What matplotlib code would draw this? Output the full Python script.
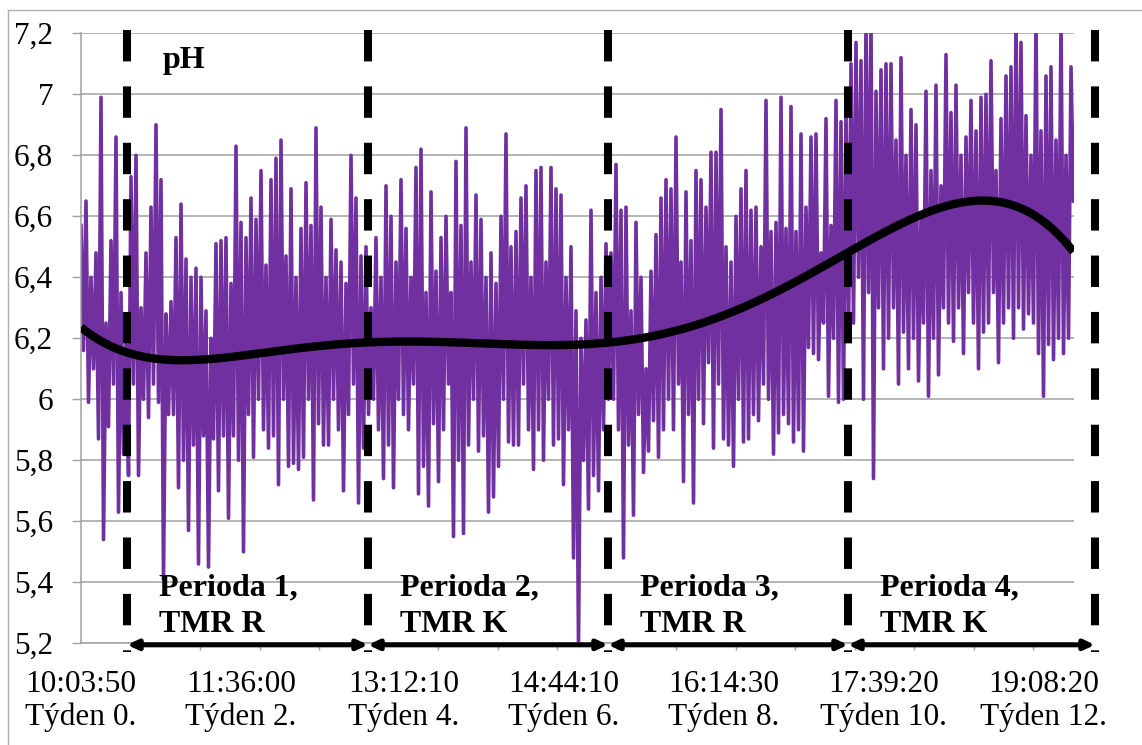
import numpy as np
import matplotlib
matplotlib.use("Agg")
import matplotlib.pyplot as plt
from matplotlib.lines import Line2D

plt.rcParams['font.family'] = ['Liberation Serif', 'DejaVu Serif']

# ---------------- data ----------------
ph_p0 = [6.57, 6.16, 6.65, 5.99, 6.40, 6.10, 6.48, 5.87, 6.99, 5.54, 6.25, 5.91,
         6.52, 6.05, 6.86, 5.63, 6.35, 5.82, 6.18]
ph_p1 = [5.75, 6.73, 6.05, 6.80, 5.75, 6.30, 6.00, 6.48, 5.94, 6.63,
         6.05, 6.90, 5.99, 6.72, 5.41, 6.28, 5.95, 6.32, 5.95, 6.53,
         5.71, 6.64, 5.80, 6.46, 5.57, 6.40, 5.85, 6.43, 5.46, 6.40,
         5.88, 6.29, 5.45, 6.20, 5.87, 6.51, 5.70, 6.52, 5.88, 6.53,
         5.61, 6.38, 5.88, 6.83, 5.80, 6.58, 5.50, 6.53, 5.95, 6.66,
         5.81, 6.59, 6.00, 6.75, 5.90, 6.44, 5.84, 6.72, 5.88, 6.79,
         5.72, 6.85, 6.00, 6.47, 5.78, 6.69, 5.79, 6.40, 5.77, 6.56,
         5.81, 6.71, 6.00, 6.57, 5.67, 6.89, 5.92, 6.63, 5.85, 6.40,
         5.85, 6.59, 6.00, 6.49, 5.90, 6.45, 5.70, 6.38, 5.95, 6.80,
         6.05, 6.66, 5.66, 6.47, 5.84, 6.50]
ph_p2 = [5.95, 6.30, 6.00, 6.53, 5.90, 6.40, 5.74, 6.70, 5.85, 6.60,
         5.71, 6.45, 6.00, 6.72, 5.95, 6.56, 5.90, 6.40, 6.05, 6.76,
         5.69, 6.82, 5.78, 6.35, 5.65, 6.68, 5.92, 6.42, 5.73, 6.53,
         5.90, 6.60, 6.05, 6.35, 5.55, 6.78, 5.80, 6.57, 5.56, 6.89,
         5.85, 6.45, 6.00, 6.67, 5.83, 6.59, 5.88, 6.40, 5.63, 6.48,
         5.68, 6.38, 5.78, 6.60, 6.00, 6.87, 5.86, 6.50, 5.85, 6.55,
         5.85, 6.66, 6.05, 6.70, 5.90, 6.40, 5.77, 6.75, 5.90, 6.76,
         5.80, 6.45, 6.00, 6.76, 5.85, 6.69, 5.87, 6.67, 5.72, 6.40,
         5.90, 6.50, 5.48, 6.29, 5.19, 6.20, 5.80, 6.26, 5.64, 6.62,
         5.75, 6.35, 5.70, 6.40, 5.90, 6.51]
ph_p3 = [6.00, 6.48, 6.00, 6.77, 5.90, 6.62, 5.48, 6.63, 5.85, 6.29,
         5.62, 6.58, 5.95, 6.40, 5.76, 6.10, 5.83, 6.42, 5.93, 6.54,
         5.81, 6.66, 5.90, 6.72, 6.00, 6.69, 5.90, 6.86, 6.05, 6.45,
         5.73, 6.68, 5.95, 6.52, 5.66, 6.75, 6.00, 6.72, 5.92, 6.63,
         6.12, 6.81, 5.84, 6.81, 6.05, 6.95, 5.87, 6.50, 5.85, 6.45,
         5.78, 6.60, 6.00, 6.69, 5.86, 6.75, 5.87, 6.62, 5.95, 6.63,
         5.93, 6.50, 6.05, 6.98, 6.00, 6.55, 5.82, 6.58, 5.89, 6.99,
         5.95, 6.56, 5.92, 6.96, 5.86, 6.55, 5.90, 6.87, 5.83, 6.63,
         6.17, 6.86, 6.15, 6.87, 6.13, 6.48, 6.25, 6.92, 6.01, 6.57,
         6.20, 6.98, 5.99, 6.91, 6.00, 6.95]
ph_p4 = [6.20, 7.10, 6.25, 7.17, 6.40, 7.11, 6.00, 7.25, 6.35, 7.25,
         5.74, 7.01, 6.30, 7.08, 6.10, 7.10, 6.20, 7.10, 6.30, 6.85,
         6.05, 7.12, 6.22, 6.80, 6.10, 6.95, 6.20, 6.90, 6.06, 6.60,
         6.25, 7.01, 6.01, 6.75, 6.20, 7.03, 6.08, 6.70, 6.30, 7.13,
         6.25, 6.94, 6.19, 7.03, 6.30, 6.80, 6.15, 6.86, 6.35, 6.98,
         6.25, 6.88, 6.10, 6.99, 6.22, 7.00, 6.25, 7.11, 6.35, 6.75,
         6.12, 6.92, 6.25, 7.06, 6.30, 7.09, 6.20, 7.25, 6.30, 7.17,
         6.23, 6.93, 6.28, 6.80, 6.25, 7.25, 6.15, 6.88, 6.01, 7.06,
         6.18, 7.09, 6.13, 6.85, 6.20, 7.25, 6.15, 6.80, 6.20, 7.09,
         6.65]

# trendline values (Excel polynomial trendline)
trend_idx = [0, 8, 18, 28, 40, 53, 69, 88, 101, 120,
             138, 165, 192, 208, 221, 234, 248, 261, 274, 288,
             301, 307, 317, 330, 344, 357, 362, 370, 384, 397]
trend_val = [6.233, 6.195, 6.156, 6.134, 6.126, 6.131, 6.151, 6.167, 6.178, 6.189,
             6.191, 6.185, 6.177, 6.176, 6.195, 6.215, 6.250, 6.290, 6.345, 6.400,
             6.455, 6.480, 6.520, 6.577, 6.626, 6.654, 6.657, 6.648, 6.583, 6.484]
trend_order = 6

time_labels = ["10:03:50", "11:36:00", "13:12:10", "14:44:10",
               "16:14:30", "17:39:20", "19:08:20"]
week_labels = ["Týden 0.", "Týden 2.", "Týden 4.", "Týden 6.",
               "Týden 8.", "Týden 10.", "Týden 12."]
label_idx = [0, 64, 129, 193, 257, 321, 385]

period_bounds = [18.4, 114.8, 210.8, 306.8, 405.6]
period_names = ["Perioda 1,", "Perioda 2,", "Perioda 3,", "Perioda 4,"]
diet_names = ["TMR R", "TMR K", "TMR R", "TMR K"]

# ---------------- figure ----------------
W, H = 1142, 745
fig = plt.figure(figsize=(W / 100, H / 100), dpi=100)
ax = fig.add_axes([81 / W, (H - 643.3) / H, (1074 - 81) / W, (643.3 - 33.3) / H])

ph = ph_p0 + ph_p1 + ph_p2 + ph_p3 + ph_p4
x = np.arange(len(ph))

purple = '#7030A0'
grey = '#a0a0a0'
ax.plot(x, ph, color=purple, lw=2.6, zorder=2)

# smooth polynomial trendline through the read trend values
coef = np.polyfit(np.array(trend_idx) / 100.0, trend_val, trend_order)
ax.plot(x, np.polyval(coef, x / 100.0), color='black', lw=6.0, zorder=3,
        solid_capstyle='butt')

ax.set_xlim(0, 397.2)
ax.set_ylim(5.2, 7.2)

yt = np.round(np.arange(5.2, 7.21, 0.2), 1)
ax.set_yticks(yt)
ax.set_yticklabels([(f"{v:.1f}".rstrip('0').rstrip('.')).replace('.', ',') for v in yt],
                   fontsize=22.5)
ax.tick_params(axis='y', length=6.5, width=1.0, color=grey, pad=13.5, direction='out')
ax.yaxis.grid(True, color=grey, lw=1.1)
ax.set_axisbelow(True)

ax.set_xticks(label_idx)
ax.set_xticklabels([f"{t}\n{w}" for t, w in zip(time_labels, week_labels)],
                   fontsize=22.5, linespacing=1.15)
ax.set_xticks(np.arange(0, 397, 23.8), minor=True)
ax.tick_params(axis='x', which='major', length=0, pad=19)
ax.tick_params(axis='x', which='minor', length=5, width=1.0, color=grey, direction='out')

for s in ['top', 'right']:
    ax.spines[s].set_visible(False)
for s in ['left', 'bottom']:
    ax.spines[s].set_color(grey)
    ax.spines[s].set_linewidth(1.1)

# dashed period boundaries
y_top = 7.2 + 3.3 / 305
y_bot = 5.2 - 9.0 / 305
for b in period_bounds:
    ax.plot([b, b], [y_top, y_bot], color='black', lw=5.8, dashes=(3.9, 3.1),
            clip_on=False, zorder=5)

# arrows between boundaries
y_arr = 5.195
for b1, b2 in zip(period_bounds[:-1], period_bounds[1:]):
    ax.annotate('', xy=(b2, y_arr), xytext=(b1, y_arr),
                arrowprops=dict(arrowstyle='<|-|>,head_length=0.3,head_width=0.14',
                                lw=3.6, color='black', shrinkA=0, shrinkB=0,
                                mutation_scale=20),
                annotation_clip=False, zorder=6)

# period text
for b, name, diet in zip(period_bounds[:-1], period_names, diet_names):
    ax.text(b + 12.8, 5.358, name, fontsize=23, fontweight='bold', ha='left',
            va='baseline', zorder=7)
    ax.text(b + 12.8, 5.2374, diet, fontsize=23, fontweight='bold', ha='left',
            va='baseline', zorder=7)

ax.text(32.8, 7.086, "pH", fontsize=23, fontweight='bold', ha='left', va='baseline',
        zorder=7)

# outer chart border (left and top edges visible)
fig.add_artist(Line2D([8 / W, 8 / W], [1 - 10 / H, 0], transform=fig.transFigure,
                      color='#b0b0b0', lw=1.0))
fig.add_artist(Line2D([8 / W, 1], [1 - 10 / H, 1 - 10 / H], transform=fig.transFigure,
                      color='#b0b0b0', lw=1.0))

fig.savefig("out.png", dpi=100, facecolor='white')
